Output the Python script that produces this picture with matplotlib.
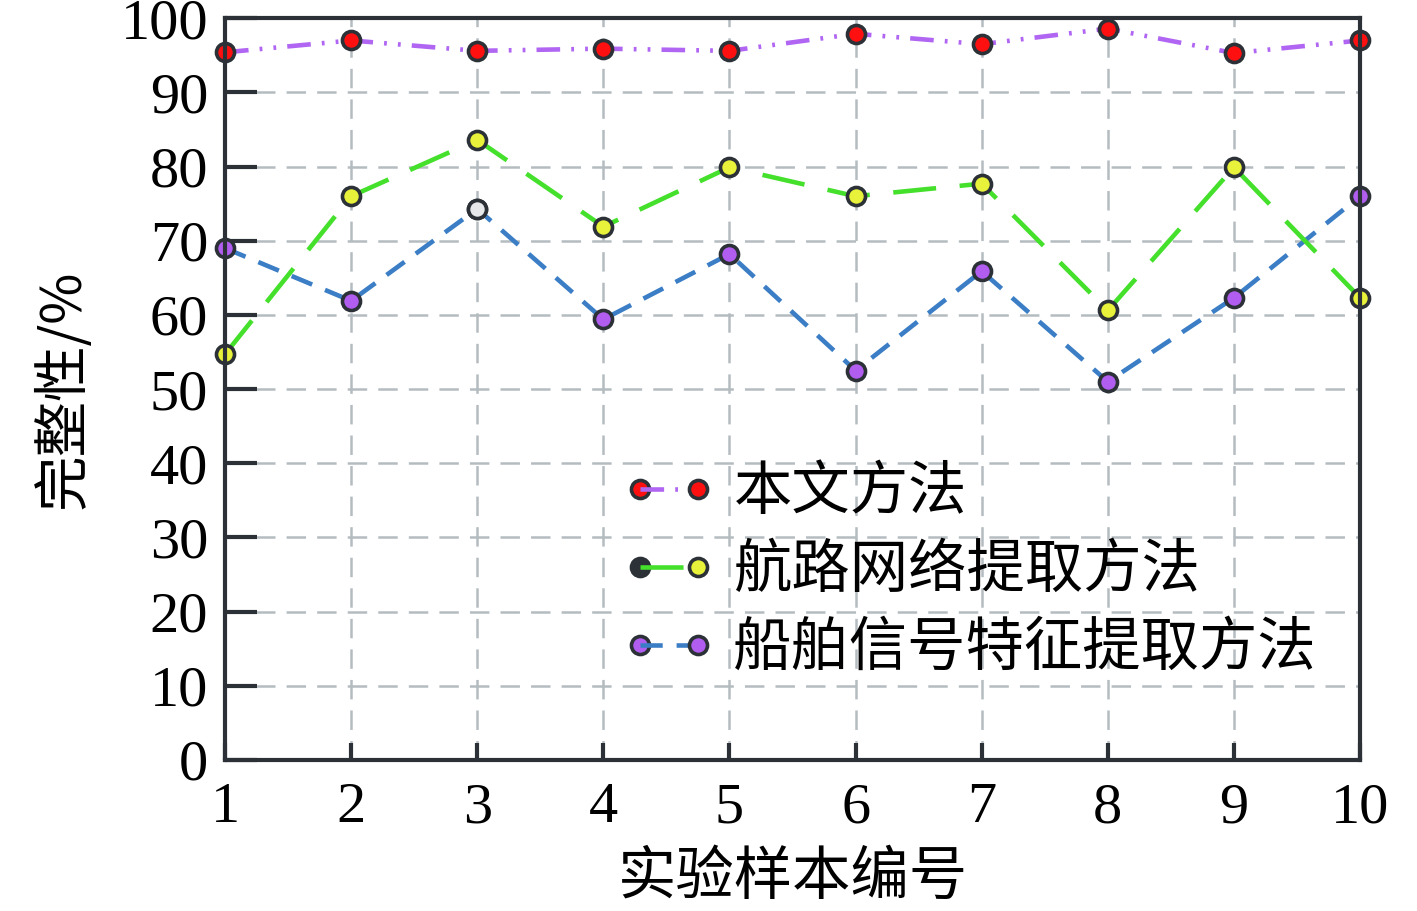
import matplotlib
matplotlib.use("Agg")
import matplotlib.pyplot as plt
from matplotlib.lines import Line2D
from matplotlib.legend_handler import HandlerLine2D

plt.rcParams['lines.scale_dashes'] = False

samples = [1, 2, 3, 4, 5, 6, 7, 8, 9, 10]
ours = [95.4, 97.0, 95.6, 95.9, 95.6, 97.9, 96.5, 98.6, 95.3, 97.0]
route = [54.7, 76.0, 83.6, 71.9, 79.9, 76.0, 77.7, 60.6, 79.9, 62.3]
signal = [69.0, 61.9, 74.3, 59.4, 68.2, 52.5, 65.9, 51.0, 62.3, 76.0]
labels = ["本文方法", "航路网络提取方法", "船舶信号特征提取方法"]
yticks = [0, 10, 20, 30, 40, 50, 60, 70, 80, 90, 100]

dark = "#2b3136"
cjk = ["Noto Sans CJK SC", "DejaVu Sans"]
serif = ["Liberation Serif", "DejaVu Serif"]

fig = plt.figure(figsize=(14.17, 9.11), dpi=100)
ax = fig.add_axes([0.1588, 0.1658, 0.9598 - 0.1588, 0.980 - 0.1658])

ms = 13
mew = 2.6
lw = 3.3

l1, = ax.plot(samples, ours, color="#b066f2", lw=lw, dashes=[17, 8, 2, 8, 2, 8],
              marker="o", ms=ms, mfc="#ff1010", mec=dark, mew=mew, clip_on=False, zorder=5)
l2, = ax.plot(samples, route, color="#45e02c", lw=lw, dashes=[31, 17],
              marker="o", ms=ms, mfc="#e8f23a", mec=dark, mew=mew, clip_on=False, zorder=4)
l3, = ax.plot(samples, signal, color="#3b7ec6", lw=lw, dashes=[16, 10],
              marker="o", ms=ms, mfc="#b15ef0", mec=dark, mew=mew, clip_on=False, zorder=3)
# odd marker at sample 3 of third series
ax.plot([samples[2]], [signal[2]], linestyle="none", marker="o", ms=ms,
        mfc="#e6e8ea", mec=dark, mew=mew, clip_on=False, zorder=6)

ax.set_xlim(1, 10)
ax.set_ylim(0, 100)
ax.set_xticks(samples)
ax.set_yticks(yticks)
ax.set_xticklabels([str(s) for s in samples], fontfamily=serif, fontsize=42)
ax.set_yticklabels([str(v) for v in yticks], fontfamily=serif, fontsize=42)

ax.grid(True, color="#b4bcc0", lw=1.8, dashes=[14, 8])
ax.set_axisbelow(True)
for s in ax.spines.values():
    s.set_color(dark)
    s.set_linewidth(3)
    s.set_zorder(7)
ax.tick_params(axis="y", direction="in", length=23, width=3, color=dark, pad=12)
ax.tick_params(axis="x", direction="in", length=12, width=3, color=dark, pad=16)

ax.set_xlabel("实验样本编号", fontfamily=cjk, fontsize=42, labelpad=9)
ax.set_ylabel("完整性/%", fontfamily=cjk, fontsize=40, labelpad=20)


class TwoColorHandler(HandlerLine2D):
    def __init__(self, first_color, **kw):
        super().__init__(numpoints=2, **kw)
        self.first_color = first_color

    def create_artists(self, legend, orig_handle, xdescent, ydescent, width, height, fontsize, trans):
        arts = super().create_artists(legend, orig_handle, xdescent, ydescent, width, height, fontsize, trans)
        line = arts[0]
        xd = line.get_xdata()
        yd = line.get_ydata()
        line.set_marker("None")
        m1 = Line2D([xd[0]], [yd[0]], linestyle="none", marker="o", ms=ms,
                    mfc=self.first_color, mec=dark, mew=mew)
        m1.set_transform(trans)
        m2 = Line2D([xd[-1]], [yd[-1]], linestyle="none", marker="o", ms=ms,
                    mfc=orig_handle.get_markerfacecolor(), mec=dark, mew=mew)
        m2.set_transform(trans)
        return [m1, line, m2]


leg = ax.legend([l1, l2, l3], labels, loc="upper left", bbox_to_anchor=(0.304, 0.472),
                frameon=False, prop={"family": cjk, "size": 42}, handlelength=1.6,
                handletextpad=0.3, labelspacing=0.29,
                handler_map={l1: TwoColorHandler("#ff1010"),
                             l2: TwoColorHandler(dark),
                             l3: TwoColorHandler("#b15ef0")})

fig.savefig("out.png", dpi=100)
